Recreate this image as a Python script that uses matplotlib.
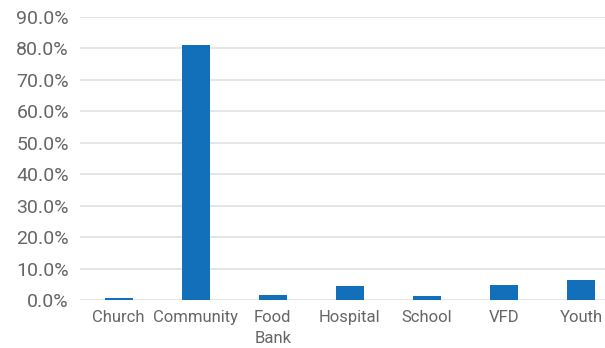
import matplotlib
matplotlib.use("Agg")
import matplotlib.pyplot as plt
from matplotlib.ticker import FuncFormatter

categories = ["Church", "Community", "Food\nBank", "Hospital", "School", "VFD", "Youth"]
shares = [0.6, 81.1, 1.6, 4.4, 1.3, 4.8, 6.3]
y_ticks = [0, 10, 20, 30, 40, 50, 60, 70, 80, 90]

plt.rcParams['font.family'] = ['Roboto', 'DejaVu Sans']

fig = plt.figure(figsize=(6.05, 3.48), dpi=100)
ax = fig.add_axes([80 / 605, 48 / 348, 525 / 605, 283 / 348])

x = list(range(len(categories)))
ax.bar(x, shares, width=28 / 77, color="#1170b9", zorder=3)

ax.set_ylim(0, 90)
ax.set_xlim(-0.5, 6.5 - 14.5 / 77)
ax.set_yticks(y_ticks)
ax.yaxis.set_major_formatter(FuncFormatter(lambda v, p: "%.1f%%" % v))
ax.set_xticks(x)
ax.set_xticklabels(categories, linespacing=1.5)

ax.grid(axis="y", color="#e3e3e3", linewidth=1.3, zorder=0)
for s in ax.spines.values():
    s.set_visible(False)
ax.tick_params(axis="y", length=0, pad=8, labelsize=14, labelcolor="#666666")
ax.tick_params(axis="x", length=0, pad=7, labelsize=12, labelcolor="#666666")

fig.savefig("out.png", dpi=100)
